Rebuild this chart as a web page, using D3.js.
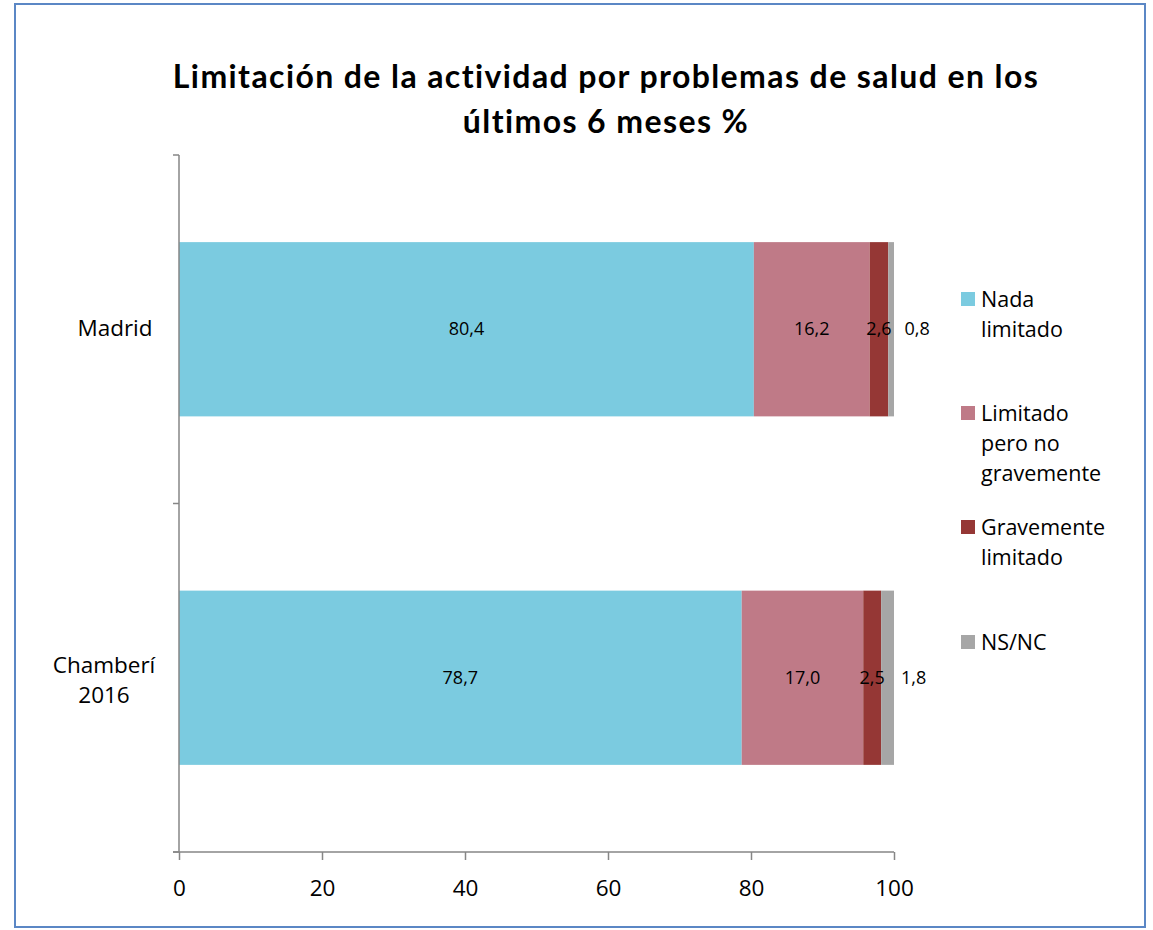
<!DOCTYPE html>
<html><head><meta charset="utf-8">
<script src="https://cdn.jsdelivr.net/npm/d3@7"></script>
<style>
body{margin:0;background:#fff;}
svg{display:block;font-family:"Open Sans", Lato, sans-serif;}
</style></head>
<body>
<svg id="chart" width="1153" height="930"></svg>
<script>
const categories = [["Madrid"], ["Chamberí", "2016"]];
const seriesNames = [["Nada", "limitado"], ["Limitado", "pero no", "gravemente"], ["Gravemente", "limitado"], ["NS/NC"]];
const seriesColors = ["#7BCBE0", "#BF7A87", "#953735", "#A6A6A6"];
const nada = [80.4, 78.7];
const limitado = [16.2, 17.0];
const gravemente = [2.6, 2.5];
const nsnc = [0.8, 1.8];
const xTicks = [0, 20, 40, 60, 80, 100];
const titleLines = ["Limitación de la actividad por problemas de salud en los", "últimos 6 meses %"];

(function () {
const series = [nada, limitado, gravemente, nsnc];
const svg = d3.select("#chart");
const bodyFont = "'Open Sans', Lato, sans-serif";

svg.append("rect").attr("x", 15).attr("y", 4).attr("width", 1130).attr("height", 923)
  .attr("fill", "none").attr("stroke", "#5B87C5").attr("stroke-width", 2);

svg.append("text").attr("x", 606).attr("y", 88).attr("text-anchor", "middle")
  .attr("font-family", "Lato, sans-serif")
  .attr("font-size", 32).attr("font-weight", "bold").attr("letter-spacing", 1.4)
  .selectAll("tspan").data(titleLines).join("tspan")
  .attr("x", 606).attr("dy", (d, i) => i ? 45 : 0).text(d => d);

const pLeft = 179, pRight = 894, pTop = 155, pBottom = 852;
const x = d3.scaleLinear().domain([0, 100]).range([pLeft, pRight]);
const y = d3.scaleBand().domain(d3.range(categories.length)).range([pTop, pBottom]).paddingInner(0.5).paddingOuter(0.25);

const rows = categories.map((c, i) => {
  let acc = 0;
  return series.map((s, k) => { const d = {cat: i, k, v: s[i], x0: acc, x1: acc + s[i]}; acc += s[i]; return d; });
});
const segs = rows.flat();

svg.append("g").selectAll("rect").data(segs).join("rect")
  .attr("x", d => x(d.x0)).attr("width", d => x(d.x1) - x(d.x0))
  .attr("y", d => y(d.cat)).attr("height", y.bandwidth())
  .attr("fill", d => seriesColors[d.k]);

const fmt = v => v.toFixed(1).replace(".", ",");
svg.append("g").selectAll("text").data(segs).join("text")
  .attr("x", d => (x(d.x0) + x(d.x1)) / 2 + (d.k === 3 ? 26 : 0))
  .attr("y", d => y(d.cat) + y.bandwidth() / 2 + 6)
  .attr("text-anchor", "middle").attr("font-size", 18).attr("fill", "#000")
  .text(d => fmt(d.v));

const axisColor = "#868686";
const gy = svg.append("g");
gy.append("line").attr("x1", pLeft).attr("x2", pLeft).attr("y1", pTop).attr("y2", pBottom).attr("stroke", axisColor).attr("stroke-width", 1.5);
const yTickPos = [pTop, (pTop + pBottom) / 2, pBottom];
gy.selectAll("line.t").data(yTickPos).join("line").attr("class", "t")
  .attr("x1", pLeft - 6).attr("x2", pLeft).attr("y1", d => d).attr("y2", d => d)
  .attr("stroke", axisColor).attr("stroke-width", 1.5);

gy.selectAll("text.c").data(categories).join("text").attr("class", "c")
  .attr("font-size", 22.5).attr("text-anchor", "middle")
  .each(function(lines, i) {
    const t = d3.select(this);
    const cy = y(i) + y.bandwidth() / 2;
    const n = lines.length;
    const cx = n === 1 ? 115 : 104;
    lines.forEach((l, j) => {
      t.append("tspan").attr("x", cx).attr("y", cy + (n === 1 ? 7 : 10) + (j - (n - 1) / 2) * 30).text(l);
    });
  });

const gx = svg.append("g").attr("transform", `translate(0,${pBottom})`)
  .call(d3.axisBottom(x).tickValues(xTicks).tickSize(8).tickPadding(20).tickSizeOuter(0));
gx.select(".domain").attr("stroke", axisColor).attr("stroke-width", 1.5).attr("d", `M${pLeft - 6},0H${pRight}`);
gx.selectAll(".tick line").attr("stroke", axisColor).attr("stroke-width", 1.5);
gx.selectAll(".tick text").attr("font-size", 22.5).attr("font-family", bodyFont).attr("fill", "#000");

const legY = [299, 413, 527, 642];
const lg = svg.append("g");
seriesNames.forEach((lines, i) => {
  lg.append("rect").attr("x", 961).attr("y", legY[i] - 7).attr("width", 14).attr("height", 14).attr("fill", seriesColors[i]);
  const t = lg.append("text").attr("font-size", 21.5).attr("fill", "#000");
  lines.forEach((l, j) => t.append("tspan").attr("x", 981).attr("y", legY[i] + 8 + j * 30).text(l));
});
})();
</script>
</body></html>
